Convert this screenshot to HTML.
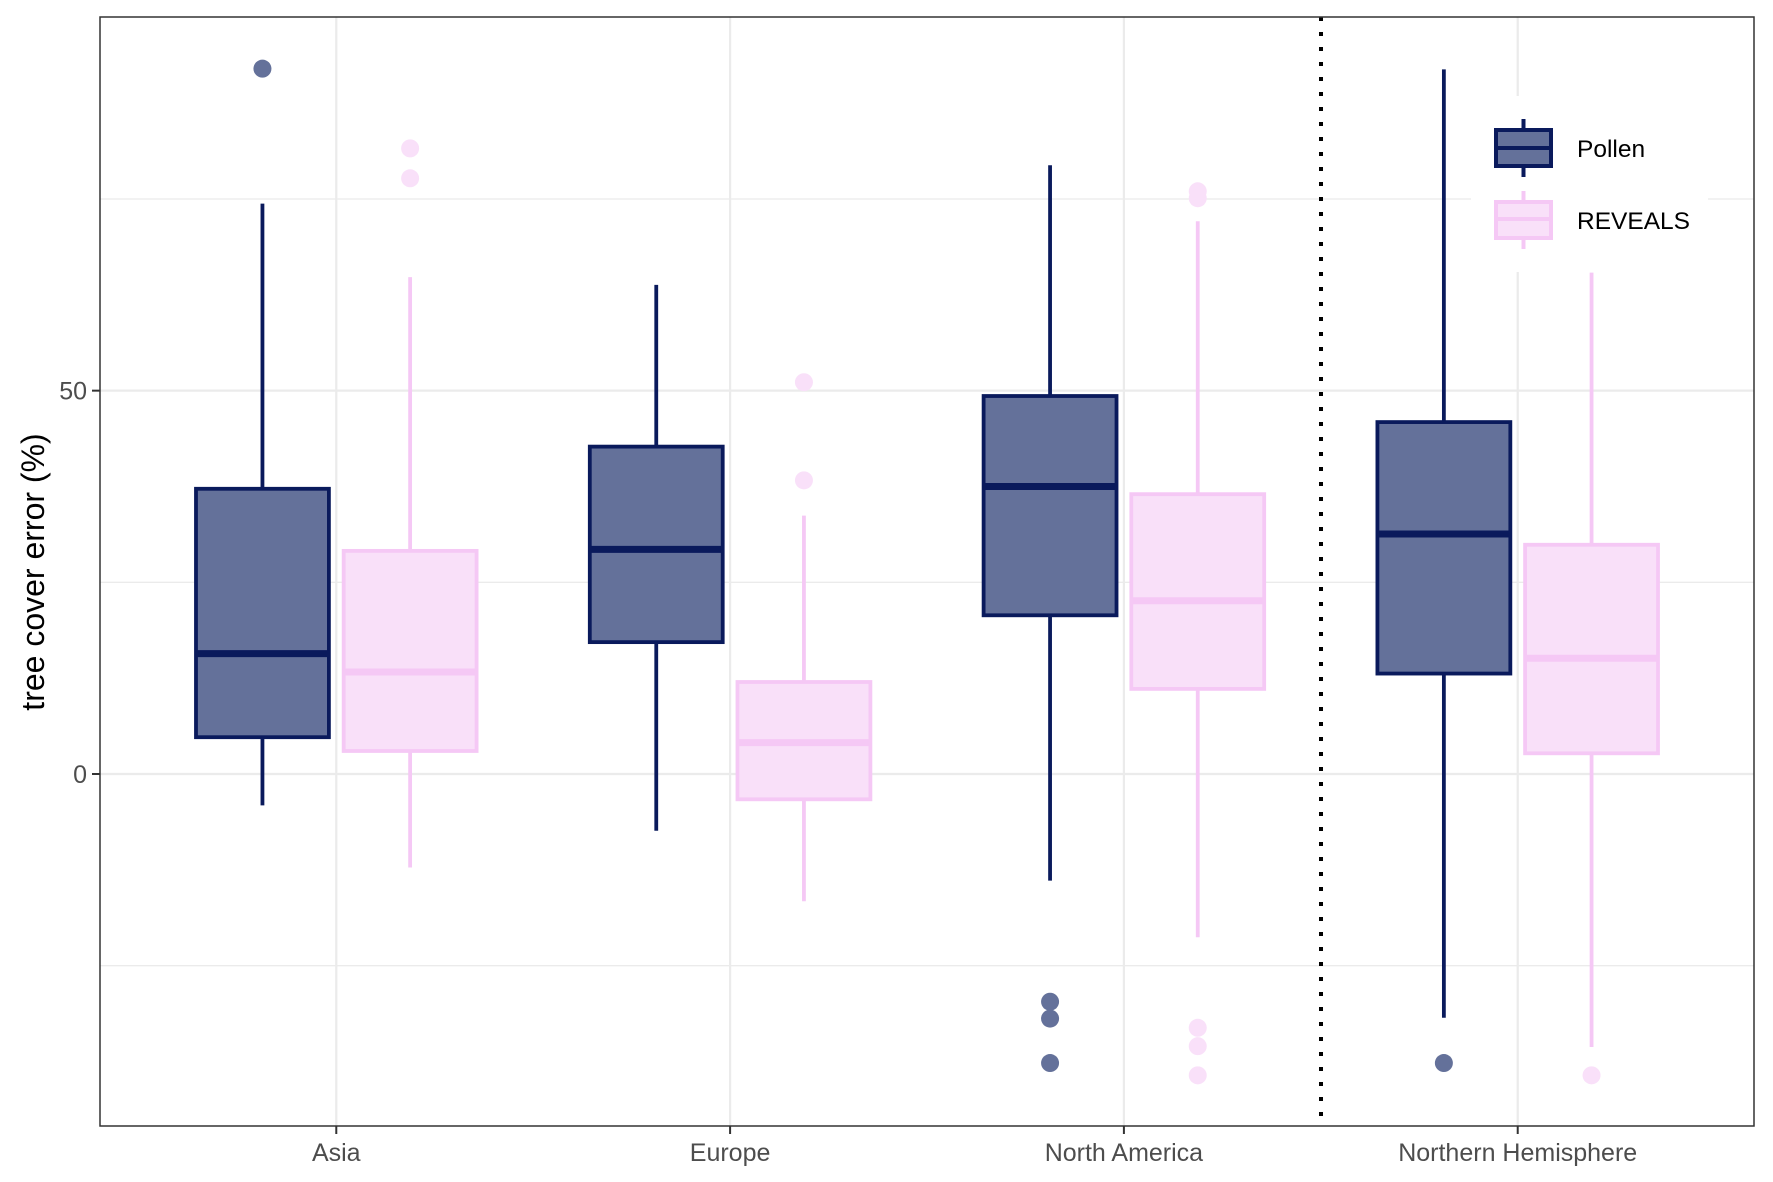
<!DOCTYPE html>
<html><head><meta charset="utf-8"><style>
body{margin:0;background:#fff}
svg{display:block;font-family:"Liberation Sans",Arial,sans-serif}
</style></head><body>
<svg id="chart" width="1773" height="1182" viewBox="0 0 1773 1182" xmlns="http://www.w3.org/2000/svg">
<g id="grid"></g>
<g id="marks"></g>
<line x1="1321" y1="17" x2="1321" y2="1126" stroke="#000" stroke-width="4" stroke-dasharray="4,11"/>
<rect x="100" y="17" width="1654" height="1109" fill="none" stroke="#333" stroke-width="1.5"/>
<g id="axes"></g>
<text transform="translate(44,572) rotate(-90)" text-anchor="middle" font-size="32" fill="#000">tree cover error (%)</text>
<g>
<rect x="1471" y="96" width="237" height="176" fill="#fff"/>
<g>
<line x1="1523.5" y1="119" x2="1523.5" y2="177" stroke="#0a1a5c" stroke-width="4"/>
<rect x="1496" y="130" width="55" height="36" fill="#64719a" stroke="#0a1a5c" stroke-width="4"/>
<line x1="1496" y1="148" x2="1551" y2="148" stroke="#0a1a5c" stroke-width="4"/>
<text x="1577" y="157" font-size="24.5" fill="#000">Pollen</text>
</g>
<g>
<line x1="1523.5" y1="191" x2="1523.5" y2="249" stroke="#f5c8f5" stroke-width="4"/>
<rect x="1496" y="202" width="55" height="36" fill="#f9e0f9" stroke="#f5c8f5" stroke-width="4"/>
<line x1="1496" y1="219" x2="1551" y2="219" stroke="#f5c8f5" stroke-width="4"/>
<text x="1577" y="229" font-size="24.5" fill="#000">REVEALS</text>
</g>
</g>
</svg>
<script>
const categories=["Asia","Europe","North America","Northern Hemisphere"];
const series=["Pollen","REVEALS"];
// [lower whisker, Q1, median, Q3, upper whisker]
const pollenStats=[[-4.1,4.8,15.7,37.2,74.4],[-7.4,17.2,29.3,42.7,63.8],[-13.9,20.7,37.5,49.3,79.4],[-31.8,13.1,31.3,45.9,91.9]];
const revealsStats=[[-12.2,3.0,13.3,29.1,64.8],[-16.6,-3.3,4.1,12.0,33.7],[-21.3,11.1,22.6,36.5,72.1],[-35.6,2.7,15.1,29.9,65.4]];
const pollenOutliers=[[92],[],[-29.7,-31.9,-37.7],[-37.7]];
const revealsOutliers=[[81.6,77.7],[51.1,38.3],[76.0,75.1,-33.1,-35.5,-39.3],[-39.3]];
const yTicks=[0,50];
const yGrid=[-25,0,25,50,75];

const NS="http://www.w3.org/2000/svg";
const X0=100,X1=1754,Y0=17,Y1=1126;
const step=(X1-X0)/(categories.length+0.2);
function xScale(i){return X0+(0.6+i)*step;}
function yScale(v){return 774-v*7.667;}
function mk(tag,attrs,parent){const e=document.createElementNS(NS,tag);for(const k in attrs)e.setAttribute(k,attrs[k]);parent.appendChild(e);return e;}
const grid=document.getElementById('grid'),marks=document.getElementById('marks'),axes=document.getElementById('axes');
yGrid.forEach(v=>{const l=mk('line',{x1:X0,x2:X1,y1:yScale(v),y2:yScale(v),stroke:'#ebebeb','stroke-width':yTicks.includes(v)?2.2:1.3},grid);

});
categories.forEach((c,i)=>{const l=mk('line',{x1:xScale(i),x2:xScale(i),y1:Y0,y2:Y1,stroke:'#ebebeb','stroke-width':2.2},grid);


const t=mk('line',{x1:xScale(i),x2:xScale(i),y1:Y1,y2:Y1+8,stroke:'#333','stroke-width':2},axes);


const tx=mk('text',{x:xScale(i),y:Y1+35,'text-anchor':'middle','font-size':25,fill:'#4d4d4d'},axes);tx.textContent=c;

});
yTicks.forEach(v=>{const t=mk('line',{x1:X0-8,x2:X0,y1:yScale(v),y2:yScale(v),stroke:'#333','stroke-width':2},axes);


const tx=mk('text',{x:X0-13,y:yScale(v)+9,'text-anchor':'end','font-size':25,fill:'#4d4d4d'},axes);tx.textContent=v;

});
const styles=[{fill:'#64719a',stroke:'#0a1a5c',pt:'#64719a'},{fill:'#f9e0f9',stroke:'#f5c8f5',pt:'#f9e0f9'}];
const bw=step*0.3375;
[pollenStats,revealsStats].forEach((stats,s)=>{
 const outs=[pollenOutliers,revealsOutliers][s];const st=styles[s];
 stats.forEach((d,i)=>{const cx=xScale(i)+(s===0?-1:1)*step*0.1875;
  const g=mk('g',{},marks);
  
  
  mk('line',{x1:cx,x2:cx,y1:yScale(d[4]),y2:yScale(d[3]),stroke:st.stroke,'stroke-width':3.8},g);
  mk('line',{x1:cx,x2:cx,y1:yScale(d[1]),y2:yScale(d[0]),stroke:st.stroke,'stroke-width':3.8},g);
  mk('rect',{x:cx-bw/2,y:yScale(d[3]),width:bw,height:yScale(d[1])-yScale(d[3]),fill:st.fill,stroke:st.stroke,'stroke-width':3.8},g);
  mk('line',{x1:cx-bw/2,x2:cx+bw/2,y1:yScale(d[2]),y2:yScale(d[2]),stroke:st.stroke,'stroke-width':7},g);
  outs[i].forEach(v=>{const c=mk('circle',{cx:cx,cy:yScale(v),r:9,fill:st.pt},marks);
   
   });
 });
});
</script>
</body></html>
